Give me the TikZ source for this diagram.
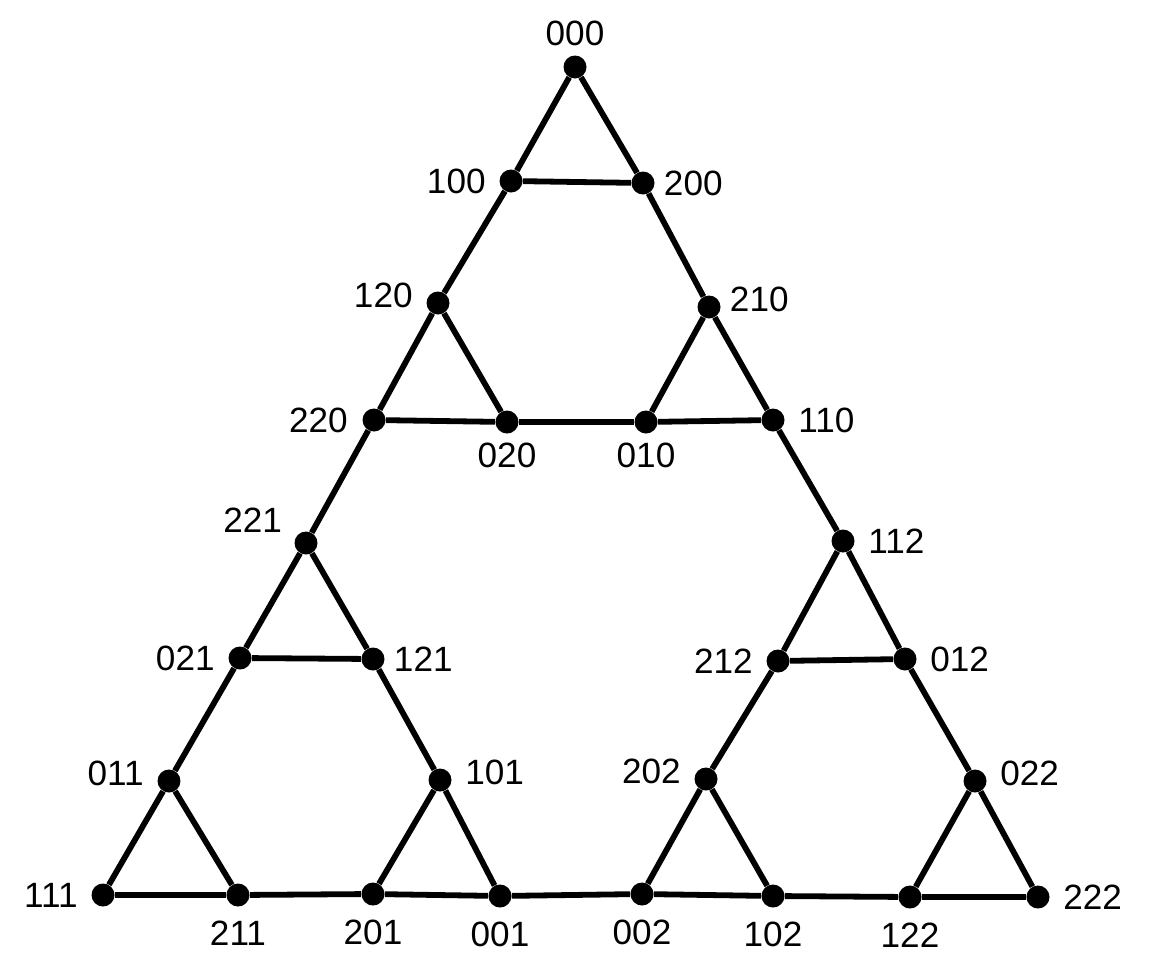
\documentclass[tikz,border=0pt]{standalone}
\usepackage{fontspec}
\setmainfont{Liberation Sans}
\usetikzlibrary{positioning}

\begin{document}
\begin{tikzpicture}[
  x=0.02cm, y=-0.02cm,
  vtx/.style={circle, fill=black, inner sep=0pt, minimum size=0.46cm},
  edge/.style={line width=3.3pt},
  every label/.style={font=\fontsize{20}{24}\selectfont, inner sep=1pt},
  label distance=6.5pt,
  far/.style={label distance=7pt},
  near/.style={label distance=4pt},
  up/.style={yshift=4.5pt}
]
\useasboundingbox (0,0) rectangle (1170,954);

% top triangle
\node[vtx, label={[near]above:000}] (n000) at (575,67) {};
\node[vtx, label=left:100] (n100) at (511,181) {};
\node[vtx, label={[near]right:200}] (n200) at (643,183) {};
\node[vtx, label={[up]left:120}] (n120) at (438,303) {};
\node[vtx, label={[near,up]right:210}] (n210) at (709,307) {};
\node[vtx, label={[far]left:220}] (n220) at (374,420) {};
\node[vtx, label={[near]below:020}] (n020) at (507,422) {};
\node[vtx, label={[near]below:010}] (n010) at (646,422) {};
\node[vtx, label=right:110] (n110) at (773,420) {};

% left triangle
\node[vtx, label=160:221] (n221) at (306,543) {};
\node[vtx, label=left:021] (n021) at (240,658) {};
\node[vtx, label={[near]right:121}] (n121) at (373,659) {};
\node[vtx, label={[up]left:011}] (n011) at (169,781) {};
\node[vtx, label={[up]right:101}] (n101) at (440,780) {};
\node[vtx, label=left:111] (n111) at (103,895) {};
\node[vtx, label={[far]below:211}] (n211) at (238,895) {};
\node[vtx, label={[far]below:201}] (n201) at (373,894) {};
\node[vtx, label={[far]below:001}] (n001) at (500,896) {};

% right triangle
\node[vtx, label=right:112] (n112) at (843,541) {};
\node[vtx, label=left:212] (n212) at (778,661) {};
\node[vtx, label=right:012] (n012) at (905,659) {};
\node[vtx, label={[up]left:202}] (n202) at (706,779) {};
\node[vtx, label={[up]right:022}] (n022) at (975,781) {};
\node[vtx, label={[far]below:002}] (n002) at (642,894) {};
\node[vtx, label={[far]below:102}] (n102) at (773,896) {};
\node[vtx, label={[far]below:122}] (n122) at (910,897) {};
\node[vtx, label=right:222] (n222) at (1038,897) {};

% edges
\draw[edge] (n000) -- (n100) -- (n200) -- (n000);
\draw[edge] (n100) -- (n120);
\draw[edge] (n200) -- (n210);
\draw[edge] (n120) -- (n220) -- (n020) -- (n120);
\draw[edge] (n210) -- (n010) -- (n110) -- (n210);
\draw[edge] (n020) -- (n010);
\draw[edge] (n220) -- (n221);
\draw[edge] (n110) -- (n112);
\draw[edge] (n221) -- (n021) -- (n121) -- (n221);
\draw[edge] (n112) -- (n212) -- (n012) -- (n112);
\draw[edge] (n021) -- (n011);
\draw[edge] (n121) -- (n101);
\draw[edge] (n212) -- (n202);
\draw[edge] (n012) -- (n022);
\draw[edge] (n011) -- (n111) -- (n211) -- (n011);
\draw[edge] (n101) -- (n201) -- (n001) -- (n101);
\draw[edge] (n202) -- (n002) -- (n102) -- (n202);
\draw[edge] (n022) -- (n122) -- (n222) -- (n022);
\draw[edge] (n211) -- (n201);
\draw[edge] (n001) -- (n002);
\draw[edge] (n102) -- (n122);
\end{tikzpicture}
\end{document}
